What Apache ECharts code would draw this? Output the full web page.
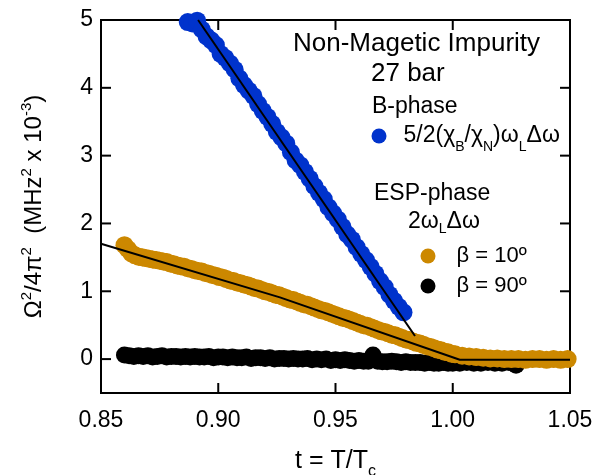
<!DOCTYPE html>
<html>
<head>
<meta charset="utf-8">
<script src="https://cdn.jsdelivr.net/npm/echarts@6/dist/echarts.min.js"></script>
<style>
html,body{margin:0;padding:0;background:#fff;}
#chart{width:604px;height:475px;}
</style>
</head>
<body>
<div id="chart"></div>
<script>
// ---- data ----
const bT = [0.887,0.889,0.891,0.893,0.895,0.897,0.899,0.901,0.903,0.905,0.907,0.909,0.911,0.913,0.915,0.917,0.919,0.921,0.923,0.925,0.927,0.929,0.931,0.933,0.935,0.937,0.939,0.941,0.943,0.945,0.947,0.949,0.951,0.953,0.955,0.957,0.959,0.961,0.963,0.965,0.967,0.969,0.971,0.973,0.975,0.977,0.979];
const bY = [4.97,4.95,4.99,4.86,4.76,4.70,4.63,4.50,4.44,4.36,4.27,4.14,4.04,3.96,3.88,3.76,3.66,3.57,3.47,3.35,3.27,3.18,3.05,2.93,2.86,2.76,2.66,2.55,2.45,2.36,2.24,2.15,2.06,1.95,1.84,1.76,1.65,1.55,1.46,1.36,1.26,1.15,1.06,0.95,0.86,0.77,0.69];

const oT = [0.860,0.8615,0.863,0.8645,0.866,0.8675,0.869,0.8705,0.872,0.8735,0.875,0.8765,0.878,0.8795,0.881,0.8825,0.884,0.8855,0.887,0.8885,0.890,0.8915,0.893,0.8945,0.896,0.8975,0.899,0.9005,0.902,0.9035,0.905,0.9065,0.908,0.9095,0.911,0.9125,0.914,0.9155,0.917,0.9185,0.920,0.9215,0.923,0.9245,0.926,0.9275,0.929,0.9305,0.932,0.9335,0.935,0.9365,0.938,0.9395,0.941,0.9425,0.944,0.9455,0.947,0.9485,0.950,0.9515,0.953,0.9545,0.956,0.9575,0.959,0.9605,0.962,0.9635,0.965,0.9665,0.968,0.9695,0.971,0.9725,0.974,0.9755,0.977,0.9785,0.980,0.9815,0.983,0.9845,0.986,0.9875,0.989,0.9905,0.992,0.9935,0.995,0.9965,0.998,0.9995,1.001,1.004,1.007,1.010,1.013,1.016,1.019,1.022,1.025,1.028,1.031,1.034,1.037,1.040,1.043,1.046,1.049];
const oY = [1.68,1.62,1.56,1.53,1.51,1.50,1.49,1.48,1.47,1.46,1.45,1.44,1.43,1.41,1.40,1.38,1.37,1.36,1.34,1.33,1.31,1.30,1.29,1.27,1.26,1.24,1.23,1.21,1.20,1.18,1.16,1.15,1.13,1.12,1.10,1.09,1.07,1.05,1.04,1.02,1.00,0.99,0.97,0.95,0.94,0.92,0.90,0.88,0.87,0.85,0.83,0.81,0.80,0.78,0.76,0.74,0.72,0.71,0.69,0.67,0.65,0.63,0.61,0.60,0.58,0.56,0.54,0.52,0.50,0.49,0.47,0.45,0.43,0.41,0.40,0.38,0.36,0.35,0.33,0.31,0.29,0.28,0.26,0.24,0.23,0.21,0.19,0.18,0.16,0.14,0.13,0.11,0.10,0.08,0.07,0.05,0.04,0.03,0.02,0.01,0.01,0.00,0.00,0.00,-0.01,0.00,0.00,-0.01,0.00,-0.01,0.00,0.00,0.00];

const kT = [0.860,0.862,0.864,0.866,0.868,0.870,0.872,0.874,0.876,0.878,0.880,0.882,0.884,0.886,0.888,0.890,0.892,0.894,0.896,0.898,0.900,0.902,0.904,0.906,0.908,0.910,0.912,0.914,0.916,0.918,0.920,0.922,0.924,0.926,0.928,0.930,0.932,0.934,0.936,0.938,0.940,0.942,0.944,0.946,0.948,0.950,0.952,0.954,0.956,0.958,0.960,0.962,0.964,0.966,0.968,0.970,0.972,0.974,0.976,0.978,0.980,0.982,0.984,0.986,0.988,0.990,0.992,0.994,0.996,0.998,1.000,1.003,1.006,1.009,1.012,1.015,1.018,1.021,1.024,1.027];
const kY = [0.06,0.05,0.04,0.05,0.04,0.05,0.03,0.04,0.05,0.03,0.04,0.04,0.03,0.04,0.03,0.04,0.03,0.03,0.04,0.02,0.03,0.03,0.02,0.03,0.02,0.02,0.03,0.01,0.02,0.02,0.01,0.02,0.00,0.01,0.01,0.00,0.01,0.00,0.00,0.01,-0.01,0.00,-0.01,0.00,-0.02,-0.01,-0.02,-0.01,-0.02,-0.03,-0.02,-0.03,-0.03,0.06,-0.03,-0.04,-0.04,-0.03,-0.04,-0.05,-0.04,-0.05,-0.05,-0.05,-0.06,-0.05,-0.06,-0.06,-0.05,-0.06,-0.06,-0.06,-0.05,-0.06,-0.06,-0.05,-0.06,-0.06,-0.05,-0.09];

const fitBT = [0.8914, 0.9839];
const fitBY = [5.0, 0.34];
const fitOT = [0.85, 0.9263, 1.003, 1.05];
const fitOY = [1.70, 0.91, -0.01, -0.01];

const xRange = [0.85, 1.05];
const yRange = [-0.5, 5];
const xTicks = [0.85, 0.90, 0.95, 1.00, 1.05];
const yTicks = [0, 1, 2, 3, 4, 5];

const names = {
  b: '5/2(χ{sub|B}/χ{sub|N})ω{sub|L}Δω',
  o: 'β = 10º',
  k: 'β = 90º'
};

// ---- build ----
const FONT = '"Liberation Sans", Arial, sans-serif';
const TICK_LEN = 10;
const zip = (a, b) => a.map((v, i) => [v, b[i]]);
const yFmt = v => (yTicks.indexOf(Math.round(v * 1000) / 1000) >= 0 ? String(v) : '');
const xFmt = v => {
  const r = Math.round(v * 1000) / 1000;
  return xTicks.some(t => Math.abs(t - r) < 1e-6) ? r.toFixed(2) : '';
};

// frame box + inward ticks on all four sides, placed through the axes' scales
function renderFrame(params, api) {
  const tl = api.coord([xRange[0], yRange[1]]);
  const br = api.coord([xRange[1], yRange[0]]);
  const st = {stroke: '#000', lineWidth: 2, fill: null};
  const children = [{type: 'rect', shape: {x: tl[0], y: tl[1], width: br[0] - tl[0], height: br[1] - tl[1]},
    style: {stroke: '#000', lineWidth: 2, fill: 'none'}}];
  xTicks.forEach(t => {
    const p = api.coord([t, yRange[0]]);
    children.push({type: 'line', shape: {x1: p[0], y1: br[1], x2: p[0], y2: br[1] - TICK_LEN}, style: st});
    children.push({type: 'line', shape: {x1: p[0], y1: tl[1], x2: p[0], y2: tl[1] + TICK_LEN}, style: st});
  });
  yTicks.forEach(t => {
    const p = api.coord([xRange[0], t]);
    children.push({type: 'line', shape: {x1: tl[0], y1: p[1], x2: tl[0] + TICK_LEN, y2: p[1]}, style: st});
    children.push({type: 'line', shape: {x1: br[0], y1: p[1], x2: br[0] - TICK_LEN, y2: p[1]}, style: st});
  });
  return {type: 'group', children: children};
}

const chart = echarts.init(document.getElementById('chart'), null, {renderer: 'canvas'});
chart.setOption({
  animation: false,
  grid: {left: 101, right: 34, top: 20, bottom: 82, outerBoundsMode: 'none'},
  xAxis: [{
    type: 'value', position: 'bottom', min: xRange[0], max: xRange[1], interval: 0.05,
    axisLine: {show: false, onZero: false}, axisTick: {show: false}, splitLine: {show: false},
    axisLabel: {fontSize: 23, color: '#000', fontFamily: FONT, margin: 16, formatter: xFmt},
    name: 't = T/T{sub|c}', nameLocation: 'middle', nameGap: 56,
    nameTextStyle: {fontSize: 25, color: '#000', fontFamily: FONT,
      rich: {sub: {fontSize: 16, verticalAlign: 'bottom', padding: [0,0,-6,0], fontFamily: FONT, color: '#000'}}}
  }],
  yAxis: [{
    type: 'value', position: 'left', min: yRange[0], max: yRange[1],
    axisLine: {show: false, onZero: false}, axisTick: {show: false}, splitLine: {show: false},
    axisLabel: {fontSize: 23, color: '#000', fontFamily: FONT, margin: 8,
      showMinLabel: false, formatter: yFmt},
    name: 'Ω{sup|2}/4π{sup|2}  (MHz{sup|2} x 10{sup|-3})', nameLocation: 'middle', nameGap: 52, nameRotate: 90,
    nameTextStyle: {fontSize: 24, color: '#000', fontFamily: FONT, lineHeight: 30,
      rich: {sup: {fontSize: 15, verticalAlign: 'top', lineHeight: 30, padding: [0,0,14,0], fontFamily: FONT, color: '#000'}}}
  }],
  legend: [{
    data: [names.b], left: 371.5, top: 121, padding: 0, icon: 'circle',
    itemWidth: 15, itemHeight: 15, itemGap: 0,
    formatter: n => '{sp|}' + n,
    textStyle: {fontSize: 23, color: '#000', fontFamily: FONT, lineHeight: 30,
      rich: {sp: {width: 12}, sub: {fontSize: 14, verticalAlign: 'bottom', padding: [0,0,-3,0], fontFamily: FONT, color: '#000'}}}
  }, {
    data: [names.o, names.k], left: 420.5, top: 241, padding: 0, icon: 'circle', orient: 'vertical',
    itemWidth: 15, itemHeight: 15, itemGap: 0,
    formatter: n => '{sp|}' + n,
    textStyle: {fontSize: 22, color: '#000', fontFamily: FONT, lineHeight: 30,
      rich: {sp: {width: 16}}}
  }],
  graphic: [
    {type: 'text', left: 293, top: 31, style: {text: 'Non-Magetic Impurity', font: '26px ' + FONT, fill: '#000'}},
    {type: 'text', left: 371, top: 61, style: {text: '27 bar', font: '26px ' + FONT, fill: '#000'}},
    {type: 'text', left: 372, top: 95, style: {text: 'B-phase', font: '23px ' + FONT, fill: '#000'}},
    {type: 'text', left: 374, top: 182, style: {text: 'ESP-phase', font: '23px ' + FONT, fill: '#000'}},
    {type: 'text', left: 408, top: 210, style: {text: '2ω{sub|L}Δω', font: '23px ' + FONT, fill: '#000',
      rich: {sub: {fontSize: 14, verticalAlign: 'bottom', padding: [0,0,-3,0], fontFamily: FONT, fill: '#000'}}}}
  ],
  series: [
    {type: 'custom', renderItem: renderFrame, data: [[0.95, 2]], clip: false, silent: true, z: 1,
      legendHoverLink: false},
    {name: names.k, type: 'scatter', data: zip(kT, kY), symbol: 'circle', symbolSize: 17,
      itemStyle: {color: '#000', opacity: 1}, z: 2},
    {name: names.o, type: 'scatter', data: zip(oT, oY), symbol: 'circle', symbolSize: 18,
      itemStyle: {color: '#cc8800', opacity: 1}, z: 3},
    {name: names.b, type: 'scatter', data: zip(bT, bY), symbol: 'circle', symbolSize: 18,
      itemStyle: {color: '#0033cc', opacity: 1}, z: 4},
    {type: 'line', data: zip(fitOT, fitOY), showSymbol: false, symbol: 'none',
      lineStyle: {color: '#000', width: 2}, z: 5},
    {type: 'line', data: zip(fitBT, fitBY), showSymbol: false, symbol: 'none',
      lineStyle: {color: '#000', width: 2}, z: 5}
  ]
});
</script>
</body>
</html>
